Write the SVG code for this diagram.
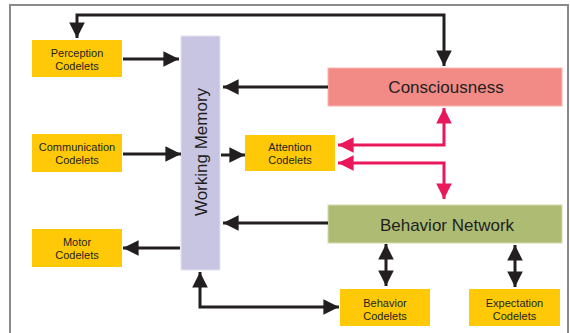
<svg xmlns="http://www.w3.org/2000/svg" width="570" height="333" viewBox="0 0 570 333">
<style>
.cod{fill:#FFC907;}
.t{font-family:"Liberation Sans",Arial,sans-serif;fill:#231F20;}
.s{font-size:11px;text-anchor:middle;}
.b{font-size:17px;text-anchor:middle;}
.k{fill:none;stroke:#231F20;stroke-width:3;}
.r{fill:none;stroke:#E8185A;stroke-width:3;}
</style>
<defs>
<marker id="ak" viewBox="0 0 10 10" refX="10" refY="5" markerWidth="5.2" markerHeight="5.2" orient="auto-start-reverse" markerUnits="strokeWidth"><path d="M0,0 L10,5 L0,10 Z" fill="#231F20"/></marker>
<marker id="ar" viewBox="0 0 10 10" refX="10" refY="5" markerWidth="5.2" markerHeight="5.2" orient="auto-start-reverse" markerUnits="strokeWidth"><path d="M0,0 L10,5 L0,10 Z" fill="#E8185A"/></marker>
</defs>
<rect x="0" y="0" width="570" height="333" fill="#FFFFFF"/>
<path d="M10,340 V5 H568 V340" fill="none" stroke="#8A8A8A" stroke-width="2"/>
<g id="perception"><rect class="cod" x="32" y="40" width="90" height="37"/><text class="t s" x="77" y="57">Perception</text><text class="t s" x="77" y="69.5">Codelets</text></g>
<g id="communication"><rect class="cod" x="32" y="134" width="90" height="38"/><text class="t s" x="77" y="151">Communication</text><text class="t s" x="77" y="164">Codelets</text></g>
<g id="motor"><rect class="cod" x="32" y="229" width="90" height="38"/><text class="t s" x="77" y="246">Motor</text><text class="t s" x="77" y="259">Codelets</text></g>
<g id="working-memory"><rect x="181" y="36" width="39" height="234" fill="#C8C5E2" stroke="#E4E2F1" stroke-width="1"/><text class="t b" transform="translate(206.5,152) rotate(-90)" x="0" y="0">Working Memory</text></g>
<g id="attention"><rect class="cod" x="245" y="135" width="90" height="36"/><text class="t s" x="290" y="151">Attention</text><text class="t s" x="290" y="163.5">Codelets</text></g>
<g id="consciousness"><rect x="328" y="68" width="234" height="38" fill="#F28A85" stroke="#F7B5B2" stroke-width="1"/><text class="t b" x="446" y="92.5">Consciousness</text></g>
<g id="behavior-network"><rect x="328" y="205" width="234" height="38" fill="#ADBC72" stroke="#D3DBB0" stroke-width="1"/><text class="t b" x="447" y="231">Behavior Network</text></g>
<g id="behavior-codelets"><rect class="cod" x="340" y="289" width="90" height="37"/><text class="t s" x="385" y="307">Behavior</text><text class="t s" x="385" y="319.5">Codelets</text></g>
<g id="expectation-codelets"><rect class="cod" x="469" y="289" width="91" height="37"/><text class="t s" x="514.5" y="307">Expectation</text><text class="t s" x="514.5" y="319.5">Codelets</text></g>
<g id="connectors">
<path class="k" d="M77,38 V15 H444 V66" marker-start="url(#ak)" marker-end="url(#ak)"/>
<path class="k" d="M123,59 H179" marker-end="url(#ak)"/>
<path class="k" d="M123,154 H181" marker-end="url(#ak)"/>
<path class="k" d="M221,155 H245" marker-end="url(#ak)"/>
<path class="k" d="M328,87 H223" marker-end="url(#ak)"/>
<path class="k" d="M328,223 H223" marker-end="url(#ak)"/>
<path class="k" d="M180,248 H123" marker-end="url(#ak)"/>
<path class="k" d="M200,272 V307 H339" marker-start="url(#ak)" marker-end="url(#ak)"/>
<path class="k" d="M386,244 V286" marker-start="url(#ak)" marker-end="url(#ak)"/>
<path class="k" d="M515,245 V287" marker-start="url(#ak)" marker-end="url(#ak)"/>
<path class="r" d="M338,145 H444 V108" marker-start="url(#ar)" marker-end="url(#ar)"/>
<path class="r" d="M338,163 H444 V199" marker-start="url(#ar)" marker-end="url(#ar)"/>
</g>
</svg>
